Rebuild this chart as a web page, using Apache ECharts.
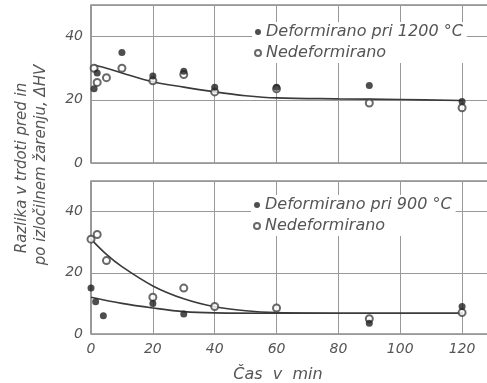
<!DOCTYPE html>
<html>
<head>
<meta charset="utf-8">
<script src="https://cdn.jsdelivr.net/npm/echarts@6/dist/echarts.min.js"></script>
<style>html,body{margin:0;padding:0;background:#fff;}#c{width:487px;height:383px;}</style>
</head>
<body>
<div id="c"></div>
<script>
// Top panel (1200 °C)
var topFilled = [[1,23.5],[2,28.5],[10,35],[20,27.5],[30,29],[40,24],[60,24],[90,24.5],[120,19.5]];
var topOpen = [[1,30],[2,25.5],[5,27],[10,30],[20,26],[30,28],[40,22.5],[60,23.5],[90,19],[120,17.5]];
var topCurve = [[1,31],[5,30],[10,28.5],[20,25.7],[30,24],[40,22.5],[50,21.3],[60,20.6],[80,20.3],[100,20.1],[120,19.8]];
// Bottom panel (900 °C)
var botFilled = [[0,15],[1.5,10.5],[4,6],[20,10],[30,6.5],[90,3.5],[120,9]];
var botOpen = [[0,31],[2,32.5],[5,24],[20,12],[30,15],[40,9],[60,8.5],[90,5],[120,7]];
var botCurveOpen = [[0,31],[5,26],[10,22],[20,15.7],[30,11.5],[40,8.9],[50,7.6],[60,7],[80,6.8],[120,6.8]];
var botCurveFilled = [[0,12],[10,10],[20,8.5],[30,7.3],[40,6.9],[60,6.8],[120,6.8]];
var xTicks = [0,20,40,60,80,100,120];
var yTicks = [0,20,40];
var nameTop = 'Deformirano pri 1200 °C';
var nameBot = 'Deformirano pri 900 °C';
var nameOpen = 'Nedeformirano';

var font = 'DejaVu Sans';
var txt = '#555';
var chart = echarts.init(document.getElementById('c'));

function xAxis(gi, showLabels, name) {
  return {
    type: 'value', gridIndex: gi, min: 0, max: 130, interval: 20,
    axisLine: {show: false}, axisTick: {show: false},
    splitLine: {show: true, lineStyle: {color: '#999', width: 1}},
    axisLabel: {show: showLabels, showMaxLabel: false, color: txt, fontFamily: font, fontStyle: 'italic', fontSize: 14, margin: 8,
      formatter: function (v) { return xTicks.indexOf(v) >= 0 ? String(v) : ''; }},
    name: name || '', nameLocation: 'middle', nameGap: 33,
    nameTextStyle: {color: txt, fontFamily: font, fontStyle: 'italic', fontSize: 16, padding: [0, 28, 0, 0]}
  };
}
function yAxis(gi) {
  return {
    type: 'value', gridIndex: gi, min: 0, max: 50, interval: 20,
    axisLine: {show: false}, axisTick: {show: false},
    splitLine: {show: true, lineStyle: {color: '#999', width: 1}},
    axisLabel: {showMaxLabel: false, color: txt, fontFamily: font, fontStyle: 'italic', fontSize: 14, margin: 8,
      formatter: function (v) { return yTicks.indexOf(v) >= 0 ? String(v) : ''; }}
  };
}
var lineStyle = {color: '#3a3a3a', width: 1.6};
var filledStyle = {color: '#222'};
var openStyle = {color: '#444', borderWidth: 1.2};
var legendText = {color: txt, fontFamily: font, fontStyle: 'italic', fontSize: 16, lineHeight: 16};

chart.setOption({
  backgroundColor: '#fff',
  animation: false,
  grid: [
    {left: 91, top: 5, width: 402, height: 158, outerBoundsMode: 'none', containLabel: false, show: true, borderColor: '#555', borderWidth: 1.2, backgroundColor: 'transparent'},
    {left: 91, top: 181, width: 402, height: 153, outerBoundsMode: 'none', containLabel: false, show: true, borderColor: '#555', borderWidth: 1.2, backgroundColor: 'transparent'}
  ],
  xAxis: [xAxis(0, false), xAxis(1, true, 'Čas  v  min')],
  yAxis: [yAxis(0), yAxis(1)],
  legend: [
    {data: [{name: nameTop, icon: 'circle'}, {name: nameOpen, icon: 'emptyCircle'}],
     orient: 'vertical', left: 252, top: 22, itemWidth: 6, itemHeight: 6, itemGap: 5,
     backgroundColor: '#fff', padding: [2, 4, 2, 2], textStyle: legendText},
    {data: [{name: nameBot, icon: 'circle'}, {name: nameOpen, icon: 'emptyCircle'}],
     orient: 'vertical', left: 251, top: 195, itemWidth: 6, itemHeight: 6, itemGap: 5,
     backgroundColor: '#fff', padding: [2, 4, 2, 2], textStyle: legendText}
  ],
  graphic: [
    {type: 'text', x: 22, y: 168, rotation: Math.PI / 2,
     style: {text: 'Razlika v trdoti pred in', fill: txt, font: 'italic 15px "DejaVu Sans"', textAlign: 'center', textVerticalAlign: 'middle'}},
    {type: 'text', x: 41, y: 165, rotation: Math.PI / 2,
     style: {text: 'po izločilnem žarenju, ΔHV', fill: txt, font: 'italic 15px "DejaVu Sans"', textAlign: 'center', textVerticalAlign: 'middle'}}
  ],
  series: [
    {type: 'line', name: 'curve1', xAxisIndex: 0, yAxisIndex: 0, data: topCurve, smooth: 0.35, showSymbol: false, lineStyle: lineStyle, silent: true, z: 2},
    {type: 'scatter', name: nameTop, xAxisIndex: 0, yAxisIndex: 0, data: topFilled, symbol: 'circle', symbolSize: 7, itemStyle: filledStyle, z: 4},
    {type: 'scatter', name: nameOpen, xAxisIndex: 0, yAxisIndex: 0, data: topOpen, symbol: 'emptyCircle', symbolSize: 7, itemStyle: openStyle, z: 3},
    {type: 'line', name: 'curve2', xAxisIndex: 1, yAxisIndex: 1, data: botCurveOpen, smooth: 0.35, showSymbol: false, lineStyle: lineStyle, silent: true, z: 2},
    {type: 'line', name: 'curve3', xAxisIndex: 1, yAxisIndex: 1, data: botCurveFilled, smooth: 0.35, showSymbol: false, lineStyle: lineStyle, silent: true, z: 2},
    {type: 'scatter', name: nameBot, xAxisIndex: 1, yAxisIndex: 1, data: botFilled, symbol: 'circle', symbolSize: 7, itemStyle: filledStyle, z: 4},
    {type: 'scatter', name: nameOpen, xAxisIndex: 1, yAxisIndex: 1, data: botOpen, symbol: 'emptyCircle', symbolSize: 7, itemStyle: openStyle, z: 3}
  ]
});
</script>
</body>
</html>
